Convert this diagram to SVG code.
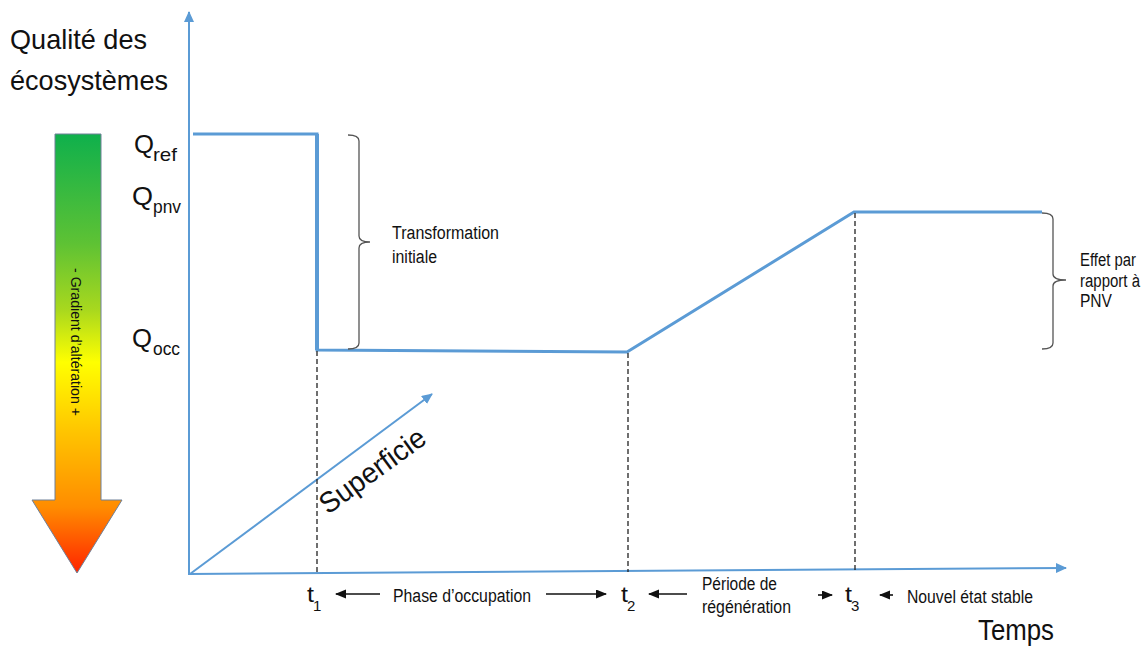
<svg xmlns="http://www.w3.org/2000/svg" width="1148" height="648" viewBox="0 0 1148 648">
  <style>
    text { font-family: "Liberation Sans", Arial, sans-serif; fill: #111; }
    .axis { stroke: #5b9bd5; stroke-width: 2; fill: none; }
    .curve { stroke: #5b9bd5; stroke-width: 3; fill: none; stroke-linejoin: miter; }
    .dash { stroke: #222; stroke-width: 1.3; stroke-dasharray: 5 3; fill: none; }
    .brace { stroke: #555; stroke-width: 1.3; fill: none; }
    .tl { stroke: #111; stroke-width: 1.6; fill: none; }
    .lbl { font-size: 18px; }
    .side { font-size: 16px; }
  </style>
  <defs>
    <linearGradient id="alteration" x1="0" y1="0" x2="0" y2="1">
      <stop offset="0" stop-color="#0fb04c"/>
      <stop offset="0.25" stop-color="#5ec234"/>
      <stop offset="0.4" stop-color="#a8d81e"/>
      <stop offset="0.52" stop-color="#ffff00"/>
      <stop offset="0.68" stop-color="#ffc400"/>
      <stop offset="0.85" stop-color="#ff8c00"/>
      <stop offset="1" stop-color="#ff2400"/>
    </linearGradient>
    <marker id="blueHead" markerWidth="12" markerHeight="12" refX="10" refY="5" orient="auto" markerUnits="userSpaceOnUse">
      <path d="M0,0 L11,5 L0,10 Z" fill="#5b9bd5"/>
    </marker>
    <marker id="blackHead" markerWidth="12" markerHeight="10" refX="10" refY="4.5" orient="auto" markerUnits="userSpaceOnUse">
      <path d="M0,0 L11,4.5 L0,9 Z" fill="#111"/>
    </marker>
  </defs>

  <!-- axis title -->
  <g id="axis-y-title">
    <text x="10" y="49" font-size="28" textLength="137" lengthAdjust="spacingAndGlyphs">Qualité des</text>
    <text x="10" y="90" font-size="28" textLength="158" lengthAdjust="spacingAndGlyphs">écosystèmes</text>
  </g>

  <!-- degradation gradient arrow -->
  <g id="gradient-arrow">
    <path d="M55,134 L101,134 L101,500 L122,500 L77,573 L32,500 L55,500 Z" fill="url(#alteration)" stroke="#6f8098" stroke-width="1"/>
    <text transform="translate(71,268) rotate(90)" font-size="15.5" textLength="148" lengthAdjust="spacingAndGlyphs">- Gradient d’altération +</text>
  </g>

  <!-- quality levels -->
  <g id="q-ref">
    <text x="134" y="153" font-size="26" textLength="20" lengthAdjust="spacingAndGlyphs">Q</text>
    <text x="153" y="161" font-size="19" textLength="24" lengthAdjust="spacingAndGlyphs">ref</text>
  </g>
  <g id="q-pnv">
    <text x="132" y="205" font-size="26" textLength="21" lengthAdjust="spacingAndGlyphs">Q</text>
    <text x="153" y="213" font-size="19" textLength="28" lengthAdjust="spacingAndGlyphs">pnv</text>
  </g>
  <g id="q-occ">
    <text x="132" y="347" font-size="26" textLength="20" lengthAdjust="spacingAndGlyphs">Q</text>
    <text x="153" y="355" font-size="19" textLength="27" lengthAdjust="spacingAndGlyphs">occ</text>
  </g>

  <!-- axes, curve and guides -->
  <g id="connectors">
    <line class="axis" x1="189" y1="575" x2="189" y2="12" marker-end="url(#blueHead)"/>
    <line class="axis" x1="189" y1="574" x2="1066" y2="568" marker-end="url(#blueHead)"/>
    <line class="axis" x1="190" y1="574" x2="432" y2="394" marker-end="url(#blueHead)"/>

    <path class="curve" d="M193,134 L317,134 L317,350 L627,352 L854,212 L1042,212"/>
    <line x1="317" y1="134" x2="317" y2="350" stroke="#5b9bd5" stroke-width="4"/>

    <line class="dash" x1="317" y1="351" x2="317" y2="574"/>
    <line class="dash" x1="628" y1="353" x2="628" y2="572"/>
    <line class="dash" x1="855" y1="213" x2="855" y2="570"/>

    <path class="brace" d="M348,135 Q359,135 359,141 L359,236 Q359,242 370,242 Q359,242 359,248 L359,343 Q359,349 348,349"/>
    <path class="brace" d="M1042,213 Q1053,213 1053,219 L1053,274 Q1053,280 1066,280 Q1053,280 1053,286 L1053,343 Q1053,349 1042,349"/>

    <line class="tl" x1="380" y1="594" x2="336" y2="594" marker-end="url(#blackHead)"/>
    <line class="tl" x1="546" y1="594" x2="606" y2="594" marker-end="url(#blackHead)"/>
    <line class="tl" x1="687" y1="594" x2="649" y2="594" marker-end="url(#blackHead)"/>
    <line class="tl" x1="818" y1="595" x2="832" y2="595" marker-end="url(#blackHead)"/>
    <line class="tl" x1="893" y1="595" x2="880" y2="595" marker-end="url(#blackHead)"/>
  </g>

  <!-- annotations -->
  <g id="superficie">
    <text transform="translate(328,515) rotate(-36)" font-size="29" textLength="124" lengthAdjust="spacingAndGlyphs">Superficie</text>
  </g>
  <g id="transformation-initiale">
    <text x="392" y="239" class="lbl" textLength="107" lengthAdjust="spacingAndGlyphs">Transformation</text>
    <text x="392" y="263" class="lbl" textLength="45" lengthAdjust="spacingAndGlyphs">initiale</text>
  </g>
  <!-- side label, slightly stretched vertically to keep the narrow look -->
  <g id="effet-pnv" transform="translate(0,-27) scale(1,1.1)">
    <text x="1080" y="266.4" class="side" textLength="56" lengthAdjust="spacingAndGlyphs">Effet par</text>
    <text x="1080" y="285.5" class="side" textLength="60" lengthAdjust="spacingAndGlyphs">rapport à</text>
    <text x="1080" y="303.6" class="side" textLength="32" lengthAdjust="spacingAndGlyphs">PNV</text>
  </g>

  <!-- time marks -->
  <g id="t1">
    <text x="307" y="602" font-size="22" textLength="7" lengthAdjust="spacingAndGlyphs">t</text>
    <text x="313" y="611" font-size="15">1</text>
  </g>
  <g id="t2">
    <text x="621" y="602" font-size="22" textLength="7" lengthAdjust="spacingAndGlyphs">t</text>
    <text x="627" y="611" font-size="15">2</text>
  </g>
  <g id="t3">
    <text x="845" y="602" font-size="22" textLength="7" lengthAdjust="spacingAndGlyphs">t</text>
    <text x="851" y="611" font-size="15">3</text>
  </g>

  <!-- phases -->
  <g id="phase-occupation">
    <text x="393" y="602" class="lbl" textLength="138" lengthAdjust="spacingAndGlyphs">Phase d’occupation</text>
  </g>
  <g id="periode-regeneration">
    <text x="702" y="590" class="lbl" textLength="75" lengthAdjust="spacingAndGlyphs">Période de</text>
    <text x="702" y="613" class="lbl" textLength="89" lengthAdjust="spacingAndGlyphs">régénération</text>
  </g>
  <g id="nouvel-etat">
    <text x="907" y="603" class="lbl" textLength="126" lengthAdjust="spacingAndGlyphs">Nouvel état stable</text>
  </g>

  <g id="axis-x-title">
    <text x="978" y="640" font-size="30" textLength="76" lengthAdjust="spacingAndGlyphs">Temps</text>
  </g>
</svg>
